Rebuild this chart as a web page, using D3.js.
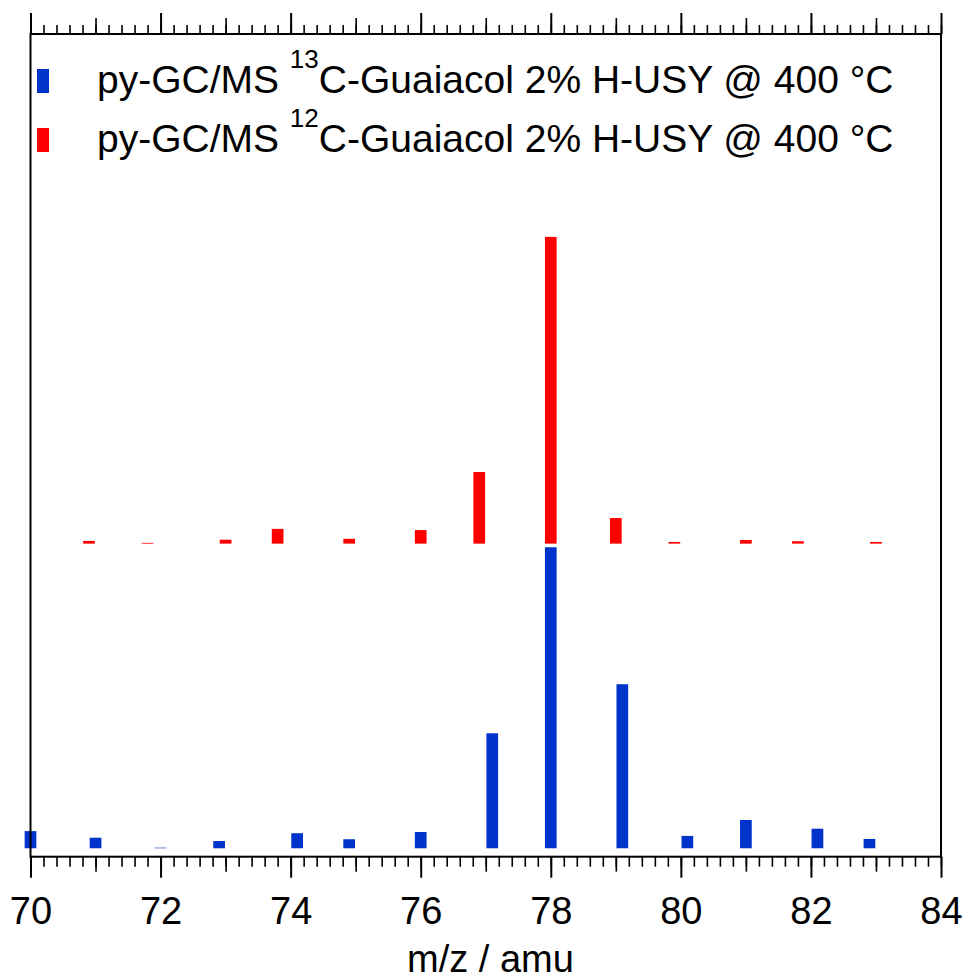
<!DOCTYPE html>
<html>
<head>
<meta charset="utf-8">
<script src="https://cdn.jsdelivr.net/npm/d3@7"></script>
<style>
  html, body { margin: 0; padding: 0; background: #fff; }
  svg { display: block; font-family: Arial, "Liberation Sans", sans-serif; }
</style>
</head>
<body>
<svg id="chart"></svg>
<script>
// m/z positions and relative intensities
const mz13 = [70, 71, 72, 72.9, 74.1, 74.9, 76, 77.1, 78, 79.1, 80.1, 81, 82.1, 82.9];
const int13 = [5.7, 3.5, 0.2, 2.4, 5.0, 3.0, 5.4, 38.2, 100, 54.5, 4.1, 9.4, 6.5, 3.1];

const mz12 = [70.9, 71.8, 73, 73.8, 74.9, 76, 76.9, 78, 79, 79.9, 81, 81.8, 83];
const int12 = [0.9, 0.25, 1.3, 4.9, 1.6, 4.5, 23.8, 101.9, 8.5, 0.55, 1.2, 0.8, 0.55];

// the 12C trace is stacked above the 13C trace
const offset12 = 101.2;

const xTicksMajor = [70, 72, 74, 76, 78, 80, 82, 84];
const xTicksMid = [71, 73, 75, 77, 79, 81, 83];

const legendItems = [
  { iso: '13', color: '#0033cc' },
  { iso: '12', color: '#ff0000' },
];

const width = 965, height = 979;
const margin = { top: 34, right: 24, bottom: 122.3, left: 30.5 };
const innerW = width - margin.left - margin.right;
const innerH = height - margin.top - margin.bottom;

const svg = d3.select('#chart').attr('width', width).attr('height', height);
const g = svg.append('g').attr('transform', `translate(${margin.left},${margin.top})`);

const x = d3.scaleLinear().domain([70, 84]).range([0, innerW]);
const y = d3.scaleLinear().domain([-2.8, 270.5]).range([innerH, 0]);
const barW = x(70.18) - x(70);

// bars
const data13 = mz13.map((m, i) => ({ m, v: int13[i] }));
const data12 = mz12.map((m, i) => ({ m, v: int12[i] }));

g.selectAll('.bar13')
  .data(data13)
  .enter()
  .append('rect')
  .attr('class', 'bar13')
  .attr('x', d => x(d.m) - barW / 2)
  .attr('width', barW)
  .attr('y', d => y(d.v))
  .attr('height', d => y(0) - y(d.v))
  .attr('fill', '#0033cc');

g.selectAll('.bar12')
  .data(data12)
  .enter()
  .append('rect')
  .attr('class', 'bar12')
  .attr('x', d => x(d.m) - barW / 2)
  .attr('width', barW)
  .attr('y', d => y(offset12 + d.v))
  .attr('height', d => y(offset12) - y(offset12 + d.v))
  .attr('fill', '#ff0000');

// frame
g.append('rect')
  .attr('width', innerW)
  .attr('height', innerH)
  .attr('fill', 'none')
  .attr('stroke', '#000')
  .attr('stroke-width', 2);

const minorTicks = d3.range(0, 71).map(i => 70 + i * 0.2);

function styleAxis(sel) {
  sel.select('.domain').remove();
  sel.selectAll('.tick line').attr('stroke', '#000').attr('stroke-width', 1.6);
}

// bottom axes
g.append('g')
  .attr('transform', `translate(0,${innerH})`)
  .call(d3.axisBottom(x).tickValues(minorTicks).tickSize(10).tickFormat(''))
  .call(styleAxis);
g.append('g')
  .attr('transform', `translate(0,${innerH})`)
  .call(d3.axisBottom(x).tickValues(xTicksMid).tickSize(15).tickFormat(''))
  .call(styleAxis);
const bottomMajor = g.append('g')
  .attr('transform', `translate(0,${innerH})`)
  .call(d3.axisBottom(x).tickValues(xTicksMajor).tickSize(21).tickPadding(19).tickFormat(d3.format('d')))
  .call(styleAxis);
bottomMajor.selectAll('.tick line').attr('stroke-width', 2);
bottomMajor.selectAll('.tick text')
  .attr('fill', '#000')
  .attr('font-family', 'Arial, "Liberation Sans", sans-serif')
  .attr('font-size', '38px');

// top axes
g.append('g')
  .call(d3.axisTop(x).tickValues(minorTicks).tickSize(9).tickFormat(''))
  .call(styleAxis);
g.append('g')
  .call(d3.axisTop(x).tickValues(xTicksMid).tickSize(16).tickFormat(''))
  .call(styleAxis);
g.append('g')
  .call(d3.axisTop(x).tickValues(xTicksMajor).tickSize(21).tickFormat(''))
  .call(styleAxis)
  .selectAll('.tick line').attr('stroke-width', 2);

// axis title
svg.append('text')
  .attr('x', 490.5)
  .attr('y', 971.5)
  .attr('text-anchor', 'middle')
  .attr('font-size', '38px')
  .attr('fill', '#000')
  .text('m/z / amu');

// legend
const legend = svg.append('g');
legendItems.forEach((item, i) => {
  const baseY = 93 + i * 59;
  legend.append('rect')
    .attr('x', 37)
    .attr('y', baseY - 24)
    .attr('width', 12)
    .attr('height', 24)
    .attr('fill', item.color);
  const t = legend.append('text')
    .attr('x', 97)
    .attr('y', baseY)
    .attr('font-size', '39px')
    .attr('fill', '#000');
  t.append('tspan').text('py-GC/MS ');
  t.append('tspan').attr('font-size', '26px').attr('dy', -25).text(item.iso);
  t.append('tspan').attr('dy', 25).text('C-Guaiacol 2% H-USY @ 400 °C');
});
</script>
</body>
</html>
